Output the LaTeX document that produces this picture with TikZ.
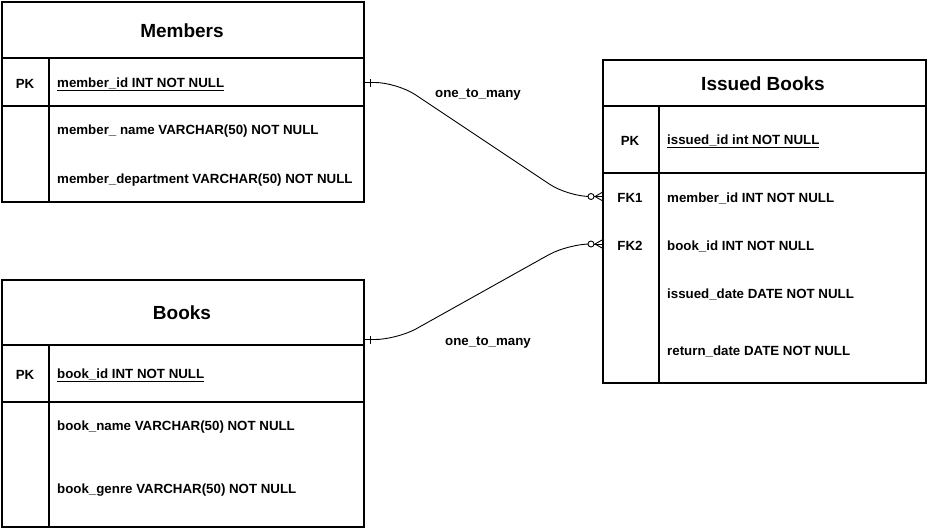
\documentclass[tikz,border=0pt]{standalone}
\usepackage{fontspec}
\setmainfont{Liberation Sans}
\begin{document}
\begin{tikzpicture}[x=1pt,y=-1pt,
  tbl/.style={draw, line width=2pt, anchor=north west, inner sep=0pt, fill=white},
  sep/.style={line width=2pt},
  ttl/.style={font=\bfseries\fontsize{19}{21}\selectfont, inner sep=0pt},
  row/.style={font=\bfseries\fontsize{13.3}{15}\selectfont, anchor=west, inner sep=0pt, yshift=-1.5pt},
  key/.style={font=\bfseries\fontsize{13.3}{15}\selectfont, inner sep=0pt, yshift=-1pt},
  rel/.style={line width=0.9pt, rounded corners=22pt},
  tip/.style={line width=0.9pt},
  lbl/.style={font=\bfseries\fontsize{13.3}{15}\selectfont, inner sep=0pt, yshift=-1.5pt}]
\useasboundingbox[fill=white] (0,0) rectangle (928,528);

% Members
\node[tbl, minimum width=362pt, minimum height=200pt] (members) at (1,1) {};
\draw[sep] (1,58) -- (363,58);
\draw[sep] (1,106) -- (363,106);
\draw[sep] (49,58) -- (49,201);
\node[ttl] (mtitle) at (182,31) {Members};
\node[key] (mpkk) at (25,83) {PK};
\node[row] (mpk) at (57,83) {\underline{member\_id INT NOT NULL}};
\node[row] (mname) at (57,130) {member\_ name VARCHAR(50) NOT NULL};
\node[row] (mdept) at (57,179) {member\_department VARCHAR(50) NOT NULL};

% Books
\node[tbl, minimum width=362pt, minimum height=247pt] (books) at (1,279) {};
\draw[sep] (1,345) -- (363,345);
\draw[sep] (1,402) -- (363,402);
\draw[sep] (49,345) -- (49,526);
\node[ttl] (btitle) at (182,313) {Books};
\node[key] (bpkk) at (25,374) {PK};
\node[row] (bpk) at (57,374) {\underline{book\_id INT NOT NULL}};
\node[row] (bname) at (57,426) {book\_name VARCHAR(50) NOT NULL};
\node[row] (bgenre) at (57,489) {book\_genre VARCHAR(50) NOT NULL};

% Issued Books
\node[tbl, minimum width=323pt, minimum height=323pt] (issued) at (602,59) {};
\draw[sep] (602,106) -- (925,106);
\draw[sep] (602,173) -- (925,173);
\draw[sep] (659,106) -- (659,382);
\node[ttl] (ititle) at (763,84) {Issued Books};
\node[key] (ipkk) at (630,140) {PK};
\node[row] (ipk) at (667,140) {\underline{issued\_id int NOT NULL}};
\node[key] (fk1k) at (630,197) {FK1};
\node[row] (fk1) at (667,197) {member\_id INT NOT NULL};
\node[key] (fk2k) at (630,245) {FK2};
\node[row] (fk2) at (667,245) {book\_id INT NOT NULL};
\node[row] (idate) at (667,293) {issued\_date DATE NOT NULL};
\node[row] (rdate) at (667,350) {return\_date DATE NOT NULL};

% connector end points
\path (members.north east) ++(0,81.5) coordinate (ms);
\path (books.north east) ++(0,60.5) coordinate (bs);
\path (issued.north west) ++(0,137.5) coordinate (e1);
\path (issued.north west) ++(0,185) coordinate (e2);

% Members -> Issued (FK1)
\draw[rel] (ms) -- ([xshift=32pt]ms) -- ([xshift=-34pt]e1) -- ([xshift=-14pt]e1);
\draw[tip] ([xshift=5pt,yshift=-4pt]ms) -- ([xshift=5pt,yshift=4pt]ms);
\draw[tip, fill=white] ([xshift=-11pt]e1) circle (3pt);
\draw[tip] ([xshift=-8pt]e1) -- (e1);
\draw[tip] ([xshift=-7pt]e1) -- ([yshift=-4pt]e1);
\draw[tip] ([xshift=-7pt]e1) -- ([yshift=4pt]e1);

% Books -> Issued (FK2)
\draw[rel] (bs) -- ([xshift=32pt]bs) -- ([xshift=-34pt]e2) -- ([xshift=-14pt]e2);
\draw[tip] ([xshift=5pt,yshift=-4pt]bs) -- ([xshift=5pt,yshift=4pt]bs);
\draw[tip, fill=white] ([xshift=-11pt]e2) circle (3pt);
\draw[tip] ([xshift=-8pt]e2) -- (e2);
\draw[tip] ([xshift=-7pt]e2) -- ([yshift=-4pt]e2);
\draw[tip] ([xshift=-7pt]e2) -- ([yshift=4pt]e2);

\node[lbl] (l1) at (478,93) {one\_to\_many};
\node[lbl] (l2) at (488,341) {one\_to\_many};
\end{tikzpicture}
\end{document}
